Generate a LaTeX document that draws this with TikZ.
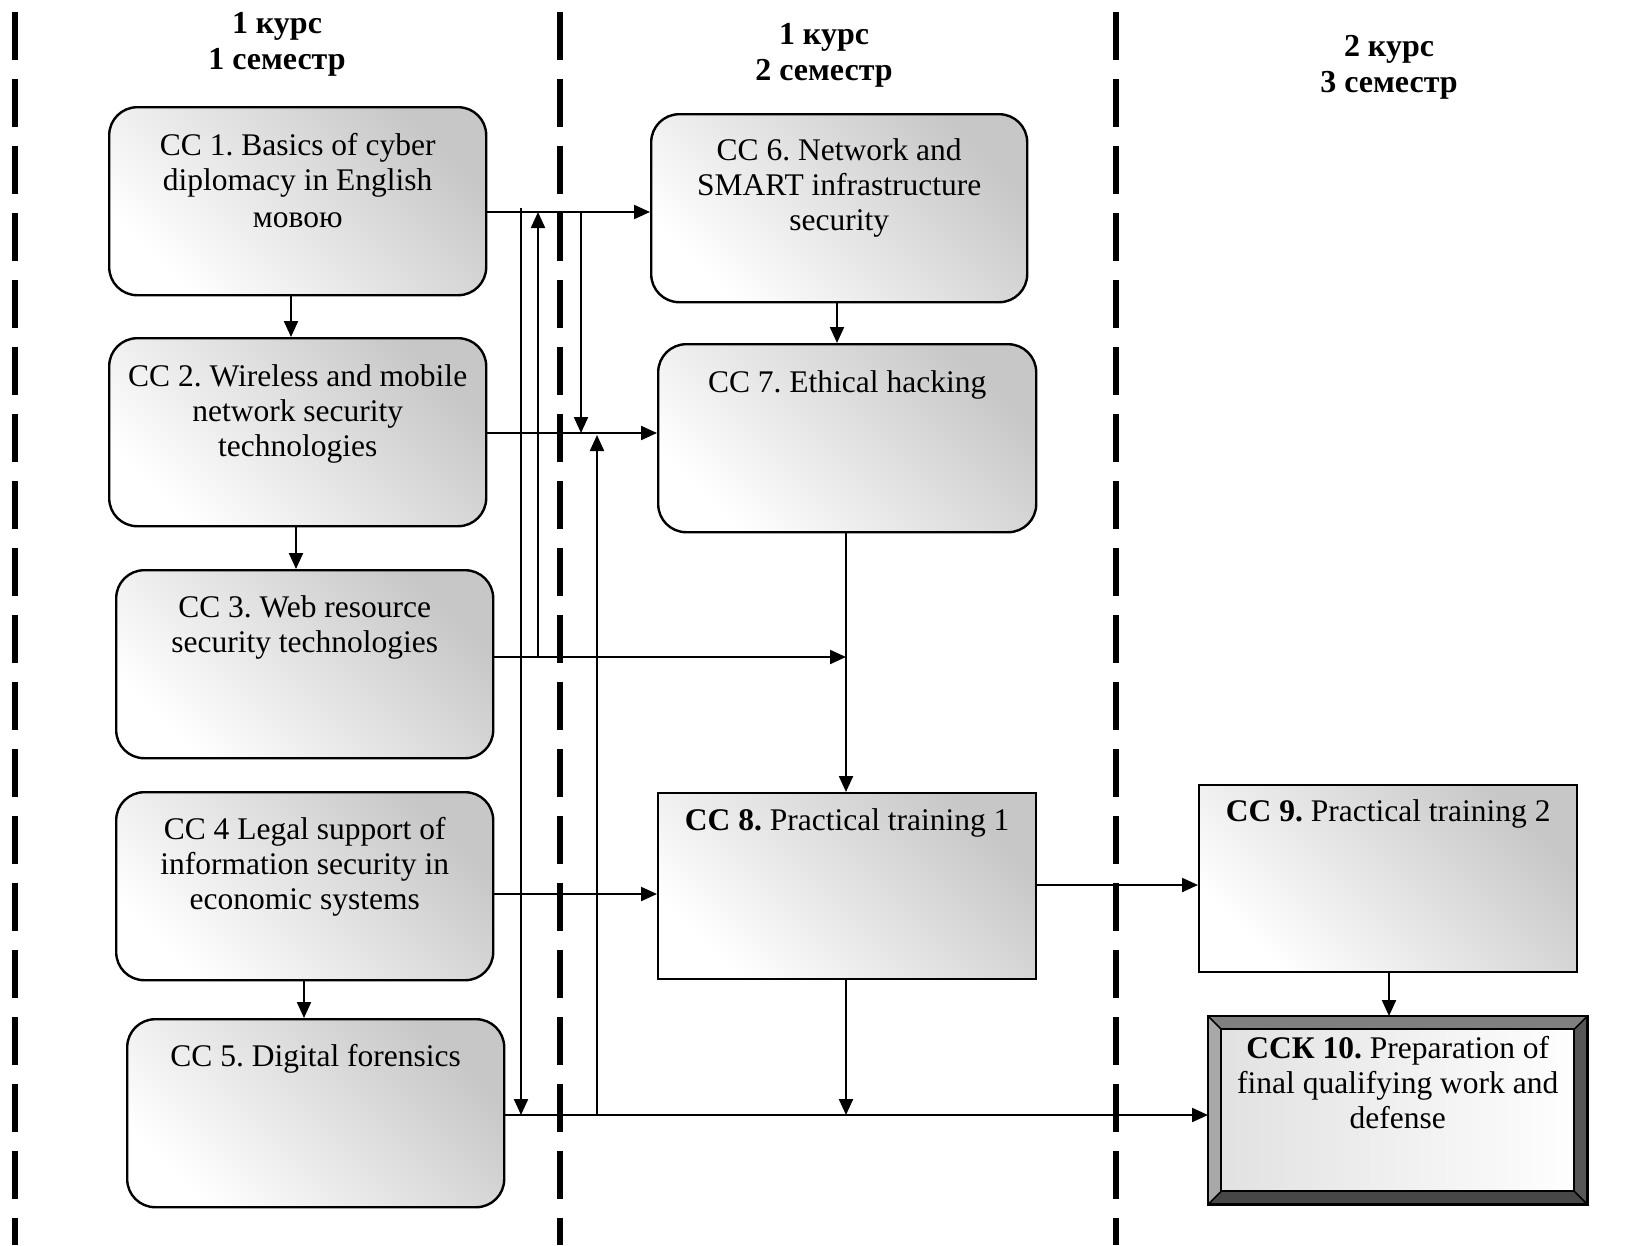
\documentclass[tikz,border=0pt]{standalone}
\usepackage{fontspec}
\setmainfont{Liberation Serif}
\usetikzlibrary{arrows.meta,calc}
\newcommand{\boxtxt}[4]{\parbox[c][#2][t]{#1}{\centering\rule{0pt}{#3}#4}}
\begin{document}
\frenchspacing
\begin{tikzpicture}[x=1pt,y=-1pt,
  boxfont/.style={font=\fontsize{31.5}{35}\selectfont},
  gradfill/.style={top color=white, bottom color=black!22, shading angle=135},
  rbox/.style={boxfont, draw, line width=2.4pt, rounded corners=28pt, inner sep=0pt,
    gradfill, anchor=north west},
  sbox/.style={boxfont, draw, line width=2.4pt, inner sep=0pt,
    gradfill, anchor=north west},
  arr/.style={line width=2.2pt, -{Triangle[length=16pt,width=14pt]}},
  sepline/.style={line width=5.5pt, dash pattern=on 48pt off 19pt, dash phase=55pt},
  hdr/.style={anchor=north, inner sep=0pt, font=\fontsize{32}{36}\selectfont\bfseries}]

\fill[white] (0,0) rectangle (1646,1245);
\useasboundingbox (0,0) rectangle (1646,1245);

% semester separators
\draw[sepline] (15,0) -- (15,1245);
\draw[sepline] (560,0) -- (560,1245);
\draw[sepline] (1116,0) -- (1116,1245);

% headers
\node[hdr] (hd1) at (277,0) {\parbox[t]{220pt}{\centering\rule{0pt}{33pt}1 курс\\1 семестр}};
\node[hdr] (hd2) at (824,11) {\parbox[t]{220pt}{\centering\rule{0pt}{33pt}1 курс\\2 семестр}};
\node[hdr] (hd3) at (1389,23) {\parbox[t]{220pt}{\centering\rule{0pt}{33pt}2 курс\\3 семестр}};

% boxes
\node[rbox] (cc1) at (108,106) {\boxtxt{377pt}{188pt}{48pt}{CC 1. Basics of cyber\\diplomacy in English\\[2pt]мовою}};
\node[rbox] (cc2) at (108,337) {\boxtxt{377pt}{188pt}{48pt}{CC 2. Wireless and mobile\\network security\\technologies}};
\node[rbox] (cc3) at (115,569) {\boxtxt{377pt}{188pt}{47pt}{CC 3. Web resource\\security technologies}};
\node[rbox] (cc4) at (115,791) {\boxtxt{377pt}{188pt}{47pt}{CC 4 Legal support of\\information security in\\economic systems}};
\node[rbox] (cc5) at (126,1018) {\boxtxt{377pt}{188pt}{47pt}{CC 5. Digital forensics}};
\node[rbox] (cc6) at (650,113) {\boxtxt{376pt}{188pt}{46pt}{CC 6. Network and\\SMART infrastructure\\security}};
\node[rbox] (cc7) at (657,343) {\boxtxt{378pt}{188pt}{48pt}{CC 7. Ethical hacking}};
\node[sbox] (cc8) at (657,792) {\boxtxt{378pt}{186pt}{37pt}{\textbf{CC 8.} Practical training 1}};
\node[sbox] (cc9) at (1198,784) {\boxtxt{378pt}{187pt}{36pt}{\textbf{CC 9.} Practical training 2}};
\node[boxfont, draw, line width=2.4pt, inner sep=0pt, left color=black!12, right color=white,
  anchor=north west] (cck) at (1208,1016)
  {\boxtxt{377pt}{186pt}{41pt}{\textbf{ССК 10.} Preparation of\\final qualifying work and\\defense}};

% bevel frame of CCK 10
\fill[black!50] (cck.north west) -- (cck.north east) -- ($(cck.north east)+(-13,13)$) -- ($(cck.north west)+(13,13)$) -- cycle;
\fill[black!34] (cck.north west) -- ($(cck.north west)+(13,13)$) -- ($(cck.south west)+(13,-13)$) -- (cck.south west) -- cycle;
\fill[black!66] (cck.north east) -- ($(cck.north east)+(-13,13)$) -- ($(cck.south east)+(-13,-13)$) -- (cck.south east) -- cycle;
\fill[black!72] (cck.south west) -- ($(cck.south west)+(13,-13)$) -- ($(cck.south east)+(-13,-13)$) -- (cck.south east) -- cycle;
\draw[line width=2.4pt] (cck.north west) rectangle (cck.south east);
\draw[line width=2pt] ($(cck.north west)+(13,13)$) rectangle ($(cck.south east)+(-13,-13)$);
\draw[line width=1.6pt] (cck.north west) -- ($(cck.north west)+(13,13)$);
\draw[line width=1.6pt] (cck.north east) -- ($(cck.north east)+(-13,13)$);
\draw[line width=1.6pt] (cck.south west) -- ($(cck.south west)+(13,-13)$);
\draw[line width=1.6pt] (cck.south east) -- ($(cck.south east)+(-13,-13)$);

% levels of the connectors
\coordinate (L1) at (0,212);
\coordinate (L2) at (0,433);
\coordinate (L3) at (0,657);
\coordinate (L4) at (0,894);
\coordinate (L5) at (0,1115);
\coordinate (L6) at (0,885);
\coordinate (V1) at (521,0);
\coordinate (V2) at (538,0);
\coordinate (V3) at (581,0);
\coordinate (V4) at (597,0);
\coordinate (V5) at (846,0);
\coordinate (X1) at (291,0);
\coordinate (X2) at (296,0);
\coordinate (X3) at (304,0);
\coordinate (X4) at (837,0);
\coordinate (X5) at (1389,0);

% vertical arrows between boxes
\draw[arr] (cc1.south -| X1) -- (cc2.north -| X1);
\draw[arr] (cc2.south -| X2) -- (cc3.north -| X2);
\draw[arr] (cc4.south -| X3) -- (cc5.north -| X3);
\draw[arr] (cc6.south -| X4) -- (cc7.north -| X4);
\draw[arr] (cc9.south -| X5) -- (cck.north -| X5);
\draw[arr] (cc7.south -| V5) -- (cc8.north -| V5);
\draw[arr] (cc8.south -| V5) -- (V5 |- L5);

% horizontal arrows
\draw[arr] (cc1.east |- L1) -- (cc6.west |- L1);
\draw[arr] (cc2.east |- L2) -- (cc7.west |- L2);
\draw[arr] (cc3.east |- L3) -- (V5 |- L3);
\draw[arr] (cc4.east |- L4) -- (cc8.west |- L4);
\draw[arr] (cc5.east |- L5) -- (cck.west |- L5);
\draw[arr] (cc8.east |- L6) -- (cc9.west |- L6);

% bus lines
\draw[arr] ($(V1 |- L1)+(0,-4)$) -- (V1 |- L5);
\draw[arr] (V2 |- L3) -- (V2 |- L1);
\draw[arr] (V3 |- L1) -- (V3 |- L2);
\draw[arr] (V4 |- L5) -- ($(V4 |- L2)+(0,2)$);
\end{tikzpicture}
\end{document}
